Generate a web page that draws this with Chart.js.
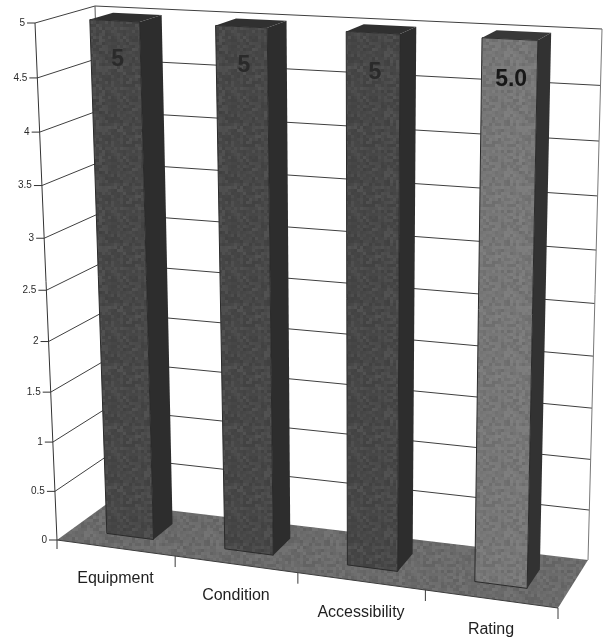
<!DOCTYPE html>
<html>
<head>
<meta charset="utf-8">
<title>Ratings</title>
<script src="https://cdn.jsdelivr.net/npm/chart.js@4"></script>
<style>
  html, body { margin: 0; padding: 0; background: #fff; }
  canvas { display: block; }
</style>
</head>
<body>
<canvas id="ratingChart" width="606" height="640"></canvas>
<script>
// chart values
const categories = ['Equipment', 'Condition', 'Accessibility', 'Rating'];
const ratingValues = [5, 5, 5, 5];
const valueLabels = ['5', '5', '5', '5.0'];
const yTickValues = [0, 0.5, 1, 1.5, 2, 2.5, 3, 3.5, 4, 4.5, 5];

// colours of each bar: front, side, top
const barFront = ['#484848', '#484848', '#484848', '#787878'];
const barSide = ['#2d2d2d', '#2d2d2d', '#2d2d2d', '#323232'];
const barTop = ['#303030', '#303030', '#303030', '#383838'];

// box corners on screen, named by u (along categories), v (height), d (depth)
const box = {
  c000: [57, 540], c100: [558, 608], c010: [35, 23], c110: [571, 48],
  c001: [108, 503], c101: [588, 560], c011: [95, 6], c111: [602, 29]
};
const depthFront = 0.3;
const depthBack = 0.7;

// foreshortening along the two long axes
function warp(t, k) {
  return t / (t + k * (1 - t));
}

// turn axis fractions into a screen point
function project(u, v, d) {
  const a = warp(u, 1.08), b = warp(v, 1.07);
  const mix = function (i) {
    const f0 = box.c000[i] * (1 - a) * (1 - b) + box.c100[i] * a * (1 - b) + box.c010[i] * (1 - a) * b + box.c110[i] * a * b;
    const f1 = box.c001[i] * (1 - a) * (1 - b) + box.c101[i] * a * (1 - b) + box.c011[i] * (1 - a) * b + box.c111[i] * a * b;
    return f0 * (1 - d) + f1 * d;
  };
  return [mix(0), mix(1)];
}

// soft mottled print texture for the shaded faces
let stipple = null;
function getStipple(ctx) {
  if (stipple) return stipple;
  const tile = document.createElement('canvas');
  tile.width = tile.height = 60;
  const t = tile.getContext('2d');
  for (let y = 0; y < 60; y += 3) {
    for (let x = 0; x < 60; x += 3) {
      const h = Math.sin(x * 12.9898 + y * 78.233) * 43758.5453;
      const n = h - Math.floor(h);
      t.fillStyle = n > 0.5 ? 'rgba(255,255,255,' + ((n - 0.5) * 0.12) + ')' : 'rgba(0,0,0,' + ((0.5 - n) * 0.2) + ')';
      t.fillRect(x, y, 3, 3);
    }
  }
  stipple = ctx.createPattern(tile, 'repeat');
  return stipple;
}

function poly(ctx, pts, fill, stroke, grain) {
  ctx.beginPath();
  pts.forEach(function (p, i) {
    if (i === 0) ctx.moveTo(p[0], p[1]); else ctx.lineTo(p[0], p[1]);
  });
  ctx.closePath();
  if (fill) { ctx.fillStyle = fill; ctx.fill(); }
  if (grain) { ctx.fillStyle = getStipple(ctx); ctx.fill(); }
  if (stroke) { ctx.strokeStyle = stroke; ctx.lineWidth = 1; ctx.stroke(); }
}

function line(ctx, a, b, color, width) {
  ctx.beginPath();
  ctx.moveTo(a[0], a[1]);
  ctx.lineTo(b[0], b[1]);
  ctx.strokeStyle = color;
  ctx.lineWidth = width || 1;
  ctx.stroke();
}

// draws the walls, floor and axes behind the bars
const perspectiveFrame = {
  id: 'perspectiveFrame',
  beforeDatasetsDraw: function (chart) {
    const ctx = chart.ctx, area = chart.chartArea, yScale = chart.scales.y;
    const vOf = function (val) { return (area.bottom - yScale.getPixelForValue(val)) / area.height; };

    // floor
    poly(ctx, [project(0, 0, 0), project(1, 0, 0), project(1, 0, 1), project(0, 0, 1)], '#6c6c6c', null, true);
    line(ctx, project(0, 0, 0), project(1, 0, 0), '#3c3c3c', 1);

    // gridlines run along the side wall and the back wall
    yTickValues.slice(1).forEach(function (val) {
      const v = vOf(val);
      line(ctx, project(0, v, 0), project(0, v, 1), '#3f3f3f', 1);
      line(ctx, project(0, v, 1), project(1, v, 1), '#3f3f3f', 1);
    });
    line(ctx, project(0, 0, 0), project(0, 1, 0), '#333333', 1);
    line(ctx, project(0, 0, 1), project(0, 1, 1), '#555555', 1);
    line(ctx, project(1, 0, 1), project(1, 1, 1), '#777777', 1);

    // value axis ticks and labels
    ctx.font = '10px "Liberation Sans", Arial, sans-serif';
    ctx.textAlign = 'right';
    ctx.textBaseline = 'middle';
    yTickValues.forEach(function (val) {
      const p = project(0, vOf(val), 0);
      line(ctx, [p[0] - 8, p[1]], p, '#333333', 1);
      ctx.fillStyle = '#2b2b2b';
      ctx.fillText(String(val), p[0] - 10, p[1]);
    });

    // category ticks and labels
    const baseV = vOf(0);
    line(ctx, project(0, baseV, 0), [project(0, baseV, 0)[0], project(0, baseV, 0)[1] + 9], '#333333', 1);
    const xScale = chart.scales.x;
    categories.forEach(function (name, i) {
      const center = (xScale.getPixelForValue(i) - area.left) / area.width;
      const step = 1 / categories.length;
      const edge = project(center + step / 2, baseV, 0);
      line(ctx, edge, [edge[0], edge[1] + 11], '#3a3a3a', 1);
      const foot = project(center, baseV, 0);
      ctx.font = '16px "Liberation Sans", Arial, sans-serif';
      ctx.textAlign = 'center';
      ctx.fillStyle = '#1f1f1f';
      ctx.fillText(name, foot[0], foot[1] + 31);
    });
  },
  // the bars themselves, as boxes built from the bar elements
  beforeDatasetDraw: function (chart, args) {
    const ctx = chart.ctx, area = chart.chartArea;
    args.meta.data.forEach(function (bar, i) {
      const uL = (bar.x - bar.width / 2 - area.left) / area.width;
      const uR = (bar.x + bar.width / 2 - area.left) / area.width;
      const vT = (area.bottom - bar.y) / area.height;
      const vB = (area.bottom - bar.base) / area.height;
      const f = depthFront, b = depthBack;
      poly(ctx, [project(uR, vB, f), project(uR, vB, b), project(uR, vT, b), project(uR, vT, f)], barSide[i]);
      poly(ctx, [project(uL, vB, f), project(uR, vB, f), project(uR, vT, f), project(uL, vT, f)], barFront[i], '#2a2a2a', true);
      poly(ctx, [project(uL, vT, f), project(uR, vT, f), project(uR, vT, b), project(uL, vT, b)], barTop[i]);

      // value printed near the top of the front face
      const yScale = chart.scales.y;
      const labelV = (area.bottom - yScale.getPixelForValue(ratingValues[i] - 0.35)) / area.height;
      const t = project((uL + uR) / 2, labelV, f);
      ctx.font = 'bold 23px "Liberation Sans", Arial, sans-serif';
      ctx.textAlign = 'center';
      ctx.textBaseline = 'middle';
      ctx.fillStyle = i === 3 ? '#171717' : '#2a2a2a';
      ctx.fillText(valueLabels[i], t[0] + 2, t[1]);
    });
    return false;
  }
};

const ctxRating = document.getElementById('ratingChart').getContext('2d');
const ratingChart = new Chart(ctxRating, {
  type: 'bar',
  data: {
    labels: categories,
    datasets: [{
      label: 'Rating',
      data: ratingValues,
      backgroundColor: barFront,
      barPercentage: 0.4,
      categoryPercentage: 1
    }]
  },
  options: {
    responsive: false,
    animation: false,
    layout: { padding: 0 },
    plugins: { legend: { display: false }, tooltip: { enabled: false } },
    scales: {
      x: { display: false },
      y: { display: false, min: 0, max: 5, ticks: { stepSize: 0.5 } }
    }
  },
  plugins: [perspectiveFrame]
});
</script>
</body>
</html>
